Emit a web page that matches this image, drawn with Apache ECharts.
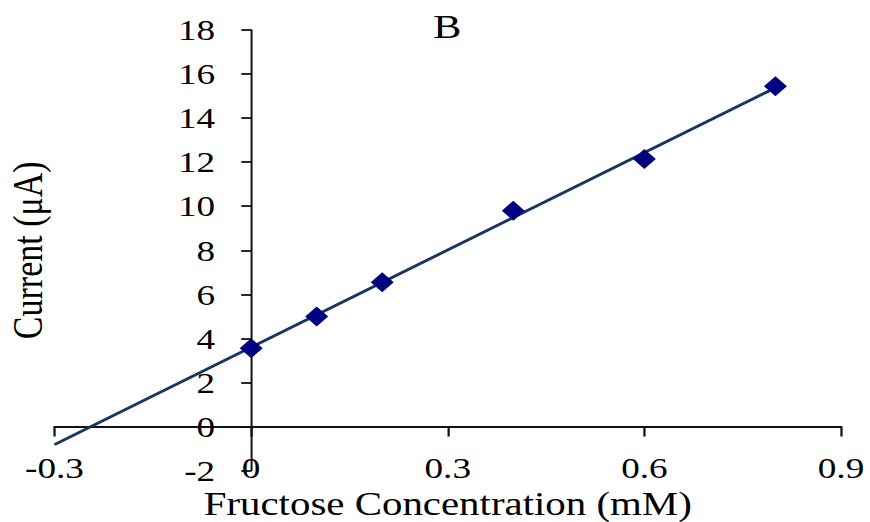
<!DOCTYPE html>
<html>
<head>
<meta charset="utf-8">
<script src="https://cdn.jsdelivr.net/npm/echarts@6/dist/echarts.min.js"></script>
<style>
html,body{margin:0;padding:0;background:#fff;overflow:hidden;width:870px;height:522px;}
#wrap{width:870px;height:522px;overflow:hidden;position:relative;}
#chart{width:702px;height:522px;transform:scaleX(1.2393);transform-origin:0 0;position:absolute;left:0;top:0;}
</style>
</head>
<body>
<div id="wrap"><div id="chart"></div></div>
<script>
// Data
const concentration = [0, 0.1, 0.2, 0.4, 0.6, 0.8];      // mM
const current = [3.55, 5.0, 6.55, 9.8, 12.15, 15.45];    // µA
const trendX = [-0.3, 0.8];
const trendY = [-0.82, 15.38];
const xTickValues = [-0.3, 0, 0.3, 0.6, 0.9];
const xTickLabels = ['-0.3', '0', '0.3', '0.6', '0.9'];
const yTickValues = [-2, 0, 2, 4, 6, 8, 10, 12, 14, 16, 18];
const yTickLabels = ['-2', '0', '2', '4', '6', '8', '10', '12', '14', '16', '18'];
const chartTitle = 'B';
const xName = 'Fructose Concentration (mM)';
const yName = 'Current (\u03bcA)';

const font = 'Liberation Serif';
const points = concentration.map((x, i) => [x, current[i]]);
const trend = trendX.map((x, i) => [x, trendY[i]]);

const W = 702;
const gridLeft = 44, gridRight = 23.4;
const xMin = -0.3, xMax = 0.9;
// shift the y axis from the grid's left edge to x = 0
const yAxisOffset = -(W - gridLeft - gridRight) * (0 - xMin) / (xMax - xMin);

const chart = echarts.init(document.getElementById('chart'), null, {renderer: 'svg'});
chart.setOption({
  animation: false,
  backgroundColor: '#fff',
  title: {
    text: chartTitle, left: 356, top: 4, textAlign: 'center',
    textStyle: {fontFamily: font, fontSize: 34, fontWeight: 'normal', color: '#000'}
  },
  grid: {left: gridLeft, right: gridRight, top: 30, bottom: 51.4, containLabel: false, outerBoundsMode: 'none'},
  xAxis: [
    {
      type: 'value', min: xMin, max: xMax, interval: 0.3,
      position: 'bottom',
      axisLine: {show: true, onZero: true, lineStyle: {color: '#111', width: 1.8}},
      axisTick: {show: true, inside: false, length: 10, lineStyle: {color: '#111', width: 1.8},
                 customValues: xTickValues},
      axisLabel: {show: false},
      splitLine: {show: false}
    },
    {
      type: 'value', min: xMin, max: xMax, interval: 0.3,
      position: 'bottom',
      axisLine: {show: false, onZero: false},
      axisTick: {show: false},
      splitLine: {show: false},
      axisLabel: {
        show: true, margin: -3, verticalAlign: 'middle',
        fontFamily: font, fontSize: 30, color: '#000',
        customValues: xTickValues,
        formatter: v => { const i = xTickValues.findIndex(t => Math.abs(t - v) < 1e-9); return i >= 0 ? xTickLabels[i] : ''; }
      },
      name: xName, nameLocation: 'middle', nameGap: 13,
      nameTextStyle: {fontFamily: font, fontSize: 33, color: '#000', verticalAlign: 'top'}
    }
  ],
  yAxis: {
    type: 'value', min: -2, max: 18, interval: 2,
    position: 'left', offset: yAxisOffset,
    axisLine: {show: true, onZero: false, lineStyle: {color: '#111', width: 1.6}},
    axisTick: {show: true, inside: false, length: 8, lineStyle: {color: '#111', width: 1.8},
               customValues: yTickValues},
    axisLabel: {
      margin: 29, fontFamily: font, fontSize: 30, color: '#000',
      customValues: yTickValues,
      formatter: v => { const i = yTickValues.indexOf(v); return i >= 0 ? yTickLabels[i] : ''; }
    },
    splitLine: {show: false},
    name: yName, nameLocation: 'middle', nameGap: 163, nameRotate: 90,
    nameTextStyle: {fontFamily: font, fontSize: 34, color: '#000'}
  },
  series: [
    {
      type: 'line', name: 'Trend', data: trend, xAxisIndex: 0,
      showSymbol: false, symbol: 'none',
      lineStyle: {color: '#17375E', width: 2.8},
      silent: true, z: 2
    },
    {
      type: 'scatter', name: 'Current', data: points, xAxisIndex: 0,
      symbol: 'diamond', symbolSize: [18.5, 20],
      itemStyle: {color: '#000080', opacity: 1},
      z: 3
    }
  ]
});
</script>
</body>
</html>
